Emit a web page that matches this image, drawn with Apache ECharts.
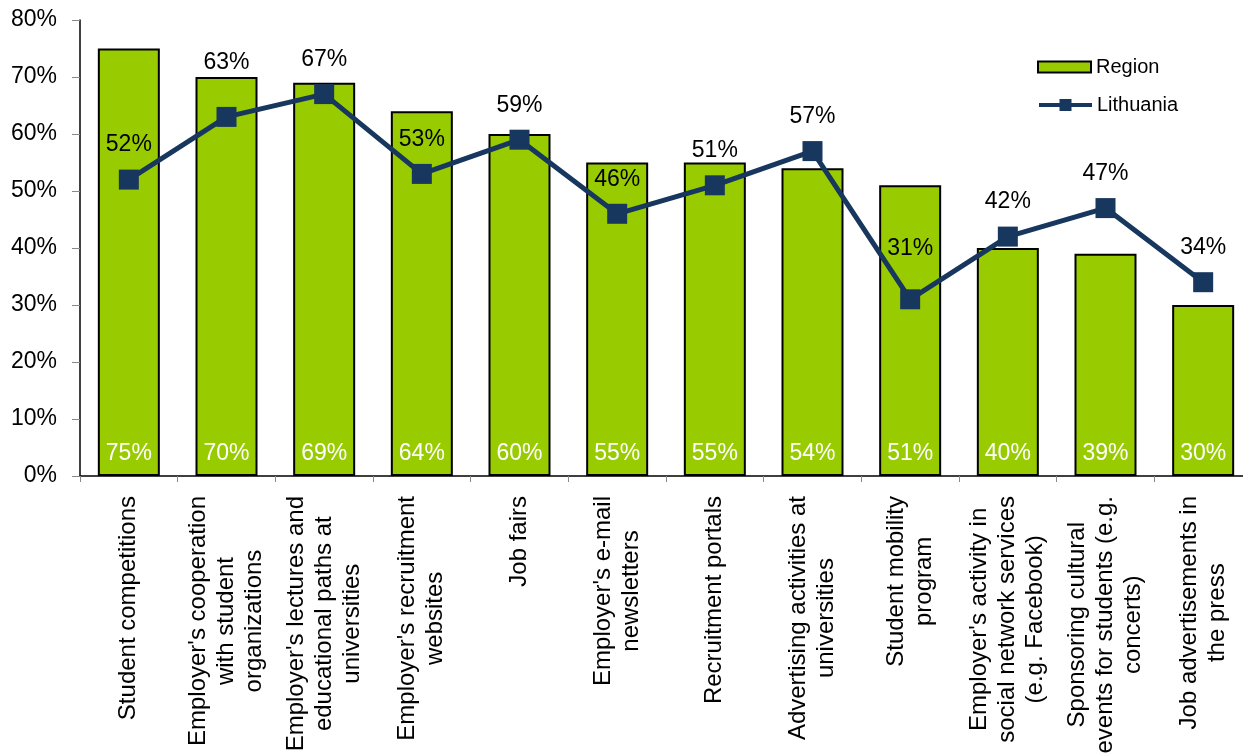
<!DOCTYPE html>
<html>
<head>
<meta charset="utf-8">
<title>Employer branding channels</title>
<script src="https://cdn.jsdelivr.net/npm/echarts@6/dist/echarts.min.js"></script>
<style>
  html, body { margin: 0; padding: 0; background: #ffffff; }
  #chart { width: 1243px; height: 755px; }
</style>
</head>
<body>
<div id="chart"></div>
<script>
// Recruitment channels (line breaks as they wrap under the axis)
const categories = [
  "Student competitions",
  "Employer's cooperation\nwith student\norganizations",
  "Employer's lectures and\neducational paths at\nuniversities",
  "Employer's recruitment\nwebsites",
  "Job fairs",
  "Employer's e-mail\nnewsletters",
  "Recruitment portals",
  "Advertising activities at\nuniversities",
  "Student mobility\nprogram",
  "Employer's activity in\nsocial network services\n(e.g. Facebook)",
  "Sponsoring cultural\nevents for students (e.g.\nconcerts)",
  "Job advertisements in\nthe press"
];

// Share of respondents, %
const regionValues = [75, 70, 69, 64, 60, 55, 55, 54, 51, 40, 39, 30];
const lithuaniaValues = [52, 63, 67, 53, 59, 46, 51, 57, 31, 42, 47, 34];

const yTicks = [0, 10, 20, 30, 40, 50, 60, 70, 80];

// A few line labels sit higher above their markers
const lithuaniaLabelLift = { 1: 20, 8: 16 };

const FONT = "Arial, 'Liberation Sans', sans-serif";
const GREEN = '#99CC00';
const NAVY = '#17375E';

const chart = echarts.init(document.getElementById('chart'), null, { renderer: 'canvas' });

const lineData = lithuaniaValues.map((v, i) => {
  const lift = lithuaniaLabelLift[i];
  return lift ? { value: v, label: { offset: [0, -lift] } } : v;
});

const legendText = { fontFamily: FONT, fontSize: 20, color: '#000' };

chart.setOption({
  animation: false,
  backgroundColor: '#ffffff',
  textStyle: { fontFamily: FONT },
  grid: {
    left: 80, top: 20, width: 1172, bottom: 279,
    containLabel: false,
    outerBoundsMode: 'none'
  },
  legend: [
    {
      orient: 'vertical',
      left: 1037,
      top: 57,
      padding: 0,
      itemWidth: 53,
      itemHeight: 11,
      textStyle: legendText,
      data: [{ name: 'Region', icon: 'rect' }]
    },
    {
      orient: 'vertical',
      left: 1037,
      top: 95,
      padding: 0,
      itemWidth: 53,
      itemHeight: 15,
      lineStyle: { width: 4 },
      textStyle: legendText,
      data: [{ name: 'Lithuania' }]
    }
  ],
  xAxis: {
    type: 'category',
    data: categories,
    axisLine: { lineStyle: { color: '#000', width: 1.5 } },
    axisTick: { show: true, length: 6, alignWithLabel: false, lineStyle: { color: '#888' } },
    axisLabel: {
      interval: 0,
      rotate: 90,
      margin: 20,
      color: '#000',
      fontFamily: FONT,
      fontSize: 24,
      formatter: (name) => name.split('\n').map(l => '{c|' + l + '}').join('\n'),
      rich: {
        c: { align: 'center', fontFamily: FONT, fontSize: 24, lineHeight: 28, color: '#000' }
      }
    }
  },
  yAxis: {
    type: 'value',
    min: yTicks[0],
    max: yTicks[yTicks.length - 1],
    interval: yTicks[1] - yTicks[0],
    splitLine: { show: false },
    axisLine: { show: true, lineStyle: { color: '#000', width: 1.5 } },
    axisTick: { show: true, length: 8, inside: false, lineStyle: { color: '#888' } },
    axisLabel: {
      color: '#000',
      fontFamily: FONT,
      fontSize: 23,
      margin: 23,
      formatter: '{value}%'
    }
  },
  series: [
    {
      name: 'Region',
      type: 'bar',
      data: regionValues,
      barWidth: 62,
      itemStyle: { color: GREEN, borderColor: '#000', borderWidth: 2 },
      label: {
        show: true,
        position: 'insideBottom',
        distance: 11,
        color: '#fff',
        fontFamily: FONT,
        fontSize: 23,
        formatter: '{c}%'
      },
      z: 2
    },
    {
      name: 'Lithuania',
      type: 'line',
      data: lineData,
      symbol: 'rect',
      symbolSize: 20,
      lineStyle: { color: NAVY, width: 5 },
      itemStyle: { color: NAVY },
      label: {
        show: true,
        position: 'top',
        distance: 13,
        color: '#000',
        fontFamily: FONT,
        fontSize: 23,
        formatter: '{c}%'
      },
      z: 3
    }
  ]
});
</script>
</body>
</html>
